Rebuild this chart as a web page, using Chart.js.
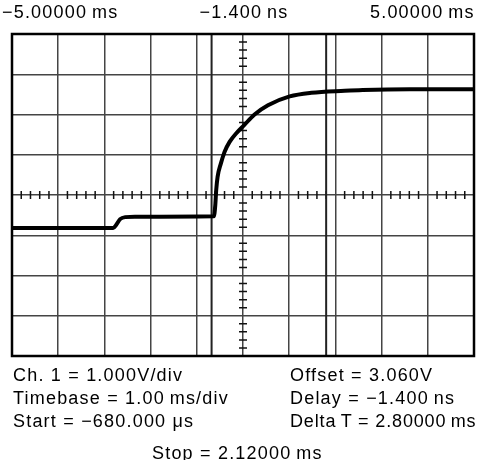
<!DOCTYPE html>
<html>
<head>
<meta charset="utf-8">
<script src="https://cdn.jsdelivr.net/npm/chart.js@4/dist/chart.umd.min.js"></script>
<style>
  html, body { margin: 0; padding: 0; background: #fff; }
  #wrap { position: relative; width: 479px; height: 460px; overflow: hidden; }
  #scope { position: absolute; left: 0; top: 0; }
  .lbl {
    position: absolute; white-space: pre; color: #000;
    font-family: "Liberation Sans", Arial, sans-serif; font-size: 18px;
    line-height: 18px; letter-spacing: 1.2px;
  }
</style>
</head>
<body>
<div id="wrap">
  <canvas id="scope" width="479" height="460"></canvas>
</div>
<script>
// trace: time in ms, channel 1 in volts
var timeMs = [-5.0, -2.81, -2.75, -2.66, -2.55, -2.34, -0.63, -0.60, -0.58, -0.55, -0.48, -0.40,
              -0.29, -0.14, 0.02, 0.25, 0.54, 1.01, 1.48, 2.20, 2.59, 3.61, 5.0];
var volts = [2.24, 2.24, 2.31, 2.46, 2.51, 2.52, 2.53, 2.81, 3.18, 3.51, 3.84, 4.13,
             4.38, 4.60, 4.79, 5.06, 5.29, 5.51, 5.60, 5.65, 5.67, 5.69, 5.69];

// screen settings
var voltsPerDiv = 1.0;
var offsetV = 3.06;
var cursorMs = [-0.68, 1.8];

// text on the screen (thin space before the units)
var topLabels = ['\u22125.00000\u2009ms', '\u22121.400\u2009ns', '5.00000\u2009ms'];
var leftInfo = ['Ch. 1 = 1.000V/div', 'Timebase = 1.00\u2009ms/div', 'Start = \u2212680.000 \u03bcs'];
var rightInfo = ['Offset = 3.060V', 'Delay = \u22121.400\u2009ns', 'Delta\u2009T = 2.80000\u2009ms'];
var stopLabel = 'Stop = 2.12000\u2009ms';

var points = timeMs.map(function (t, i) { return { x: t, y: volts[i] }; });

// frame, minor ticks on the centre lines and the two cursors
var scopeDecor = {
    id: 'scopeDecor',
    beforeDatasetsDraw: function (chart) {
        var c = chart.ctx, a = chart.chartArea;
        var xs = chart.scales.x, ys = chart.scales.y;
        var cx = xs.getPixelForValue(0), cy = ys.getPixelForValue(offsetV);
        c.save();
        c.strokeStyle = '#111';
        c.lineWidth = 1.5;
        c.beginPath();
        for (var i = 0; i <= 50; i++) {
            if (i % 5 === 0) continue;
            var px = xs.getPixelForValue(-5 + i * 0.2);
            c.moveTo(px, cy - 4); c.lineTo(px, cy + 4);
        }
        for (var j = 0; j <= 40; j++) {
            if (j % 5 === 0) continue;
            var py = ys.getPixelForValue(offsetV - 4 * voltsPerDiv + j * 0.2 * voltsPerDiv);
            c.moveTo(cx - 4, py); c.lineTo(cx + 4, py);
        }
        c.stroke();
        c.strokeStyle = '#222';
        c.lineWidth = 2;
        c.beginPath();
        cursorMs.forEach(function (t) {
            var px = xs.getPixelForValue(t);
            c.moveTo(px, a.top); c.lineTo(px, a.bottom);
        });
        c.stroke();
        c.restore();
    },
    afterDraw: function (chart) {
        var c = chart.ctx, a = chart.chartArea;
        c.save();
        c.strokeStyle = '#000';
        c.lineWidth = 2.5;
        c.strokeRect(a.left, a.top, a.right - a.left, a.bottom - a.top);
        c.restore();
    }
};

new Chart(document.getElementById('scope'), {
    type: 'line',
    data: {
        datasets: [{
            data: points,
            borderColor: '#000',
            borderWidth: 4,
            pointRadius: 0,
            cubicInterpolationMode: 'monotone',
            fill: false
        }]
    },
    options: {
        responsive: false,
        animation: false,
        events: [],
        layout: { padding: { left: 12, right: 5, top: 34, bottom: 104 } },
        plugins: { legend: { display: false }, tooltip: { enabled: false } },
        scales: {
            x: {
                type: 'linear', min: -5, max: 5,
                ticks: { display: false, stepSize: 1 },
                grid: { color: '#444', lineWidth: 1.5, drawTicks: false },
                border: { display: false }
            },
            y: {
                type: 'linear',
                min: offsetV - 4 * voltsPerDiv, max: offsetV + 4 * voltsPerDiv,
                afterBuildTicks: function (s) {
                    var t = [];
                    for (var k = -4; k <= 4; k++) t.push({ value: offsetV + k * voltsPerDiv });
                    s.ticks = t;
                },
                ticks: { display: false },
                grid: { color: '#444', lineWidth: 1.5, drawTicks: false },
                border: { display: false }
            }
        }
    },
    plugins: [scopeDecor]
});

// text rows; anything running past the right edge gets tighter letter spacing
var wrap = document.getElementById('wrap');
var rightEdge = 476;
function addLabel(text, x, y, align) {
    var d = document.createElement('div');
    d.className = 'lbl';
    d.textContent = text;
    d.style.top = y + 'px';
    wrap.appendChild(d);
    var w = d.offsetWidth;
    if (align === 'left' && x + w > rightEdge) {
        var over = x + w - rightEdge;
        d.style.letterSpacing = (1.2 - over / text.length) + 'px';
        w = d.offsetWidth;
    }
    if (align === 'center') x = x - w / 2;
    if (align === 'right') x = x - w;
    d.style.left = x + 'px';
}
addLabel(topLabels[0], 2, 3, 'left');
addLabel(topLabels[1], 244, 3, 'center');
addLabel(topLabels[2], 475, 3, 'right');
var rowTop = [366, 389, 412];
leftInfo.forEach(function (s, i) { addLabel(s, 13, rowTop[i], 'left'); });
rightInfo.forEach(function (s, i) { addLabel(s, 290, rowTop[i], 'left'); });
addLabel(stopLabel, 152, 444, 'left');
</script>
</body>
</html>
